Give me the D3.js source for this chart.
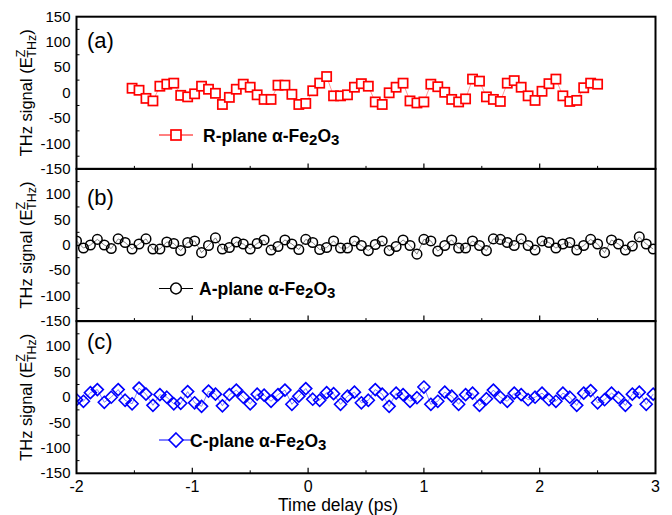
<!DOCTYPE html>
<html>
<head>
<meta charset="utf-8">
<script src="https://cdn.jsdelivr.net/npm/d3@7/dist/d3.min.js"></script>
<style>
  body { margin: 0; background: #fff; }
  svg { font-family: "Liberation Sans", Arial, sans-serif; }
</style>
</head>
<body>
<div id="chart"></div>
<script>
// time delay (ps) and THz signal
const delayA = [
  -1.52,-1.46,-1.40,-1.34,-1.28,-1.22,-1.16,-1.10,-1.04,-0.98,
  -0.92,-0.86,-0.80,-0.74,-0.68,-0.62,-0.56,-0.50,-0.44,-0.38,
  -0.32,-0.26,-0.20,-0.14,-0.08,-0.02,0.04,0.10,0.16,0.22,
  0.28,0.34,0.40,0.46,0.52,0.58,0.64,0.70,0.76,0.82,
  0.88,0.94,1.00,1.06,1.12,1.18,1.24,1.30,1.36,1.42,
  1.48,1.54,1.60,1.66,1.72,1.78,1.84,1.90,1.96,2.02,
  2.08,2.14,2.20,2.26,2.32,2.38,2.44,2.50
];
const sigA = [
  9, 5, -11, -16, 13, 17, 19, -5, -8, -2,
  13, 7, -1, -23, -9, 7, 17, 11, -4, -13,
  -13, 15, 15, -3, -23, -21, 4, 19, 32, -6,
  -6, -4, 11, 18, 13, -18, -23, 0, 11, 19,
  -16, -20, -18, 17, 12, 1, -13, -18, -12, 27,
  23, -8, -13, -17, 19, 24, 11, -6, -15, 3,
  18, 27, -6, -17, -15, 10, 19, 17
];
const delayBC = [
  -2.00,-1.94,-1.88,-1.82,-1.76,-1.70,-1.64,-1.58,-1.52,-1.46,
  -1.40,-1.34,-1.28,-1.22,-1.16,-1.10,-1.04,-0.98,-0.92,-0.86,
  -0.80,-0.74,-0.68,-0.62,-0.56,-0.50,-0.44,-0.38,-0.32,-0.26,
  -0.20,-0.14,-0.08,-0.02,0.04,0.10,0.16,0.22,0.28,0.34,
  0.40,0.46,0.52,0.58,0.64,0.70,0.76,0.82,0.88,0.94,
  1.00,1.06,1.12,1.18,1.24,1.30,1.36,1.42,1.48,1.54,
  1.60,1.66,1.72,1.78,1.84,1.90,1.96,2.02,2.08,2.14,
  2.20,2.26,2.32,2.38,2.44,2.50,2.56,2.62,2.68,2.74,
  2.80,2.86,2.92,2.98
];
const sigB = [
  8, -6, 0, 11, 0, -7, 12, 5, -8, 2,
  12, -8, -8, 6, 3, -11, 5, 8, -15, -1,
  14, -8, -5, 6, 2, -8, 3, 10, -10, -3,
  10, 2, -9, 11, 5, -9, -5, 8, -6, -6,
  8, -1, -11, 1, 8, -11, -3, 10, -1, -18,
  11, 8, -12, -1, 10, -6, -6, 8, -1, -11,
  12, 11, 5, -1, 12, -1, -10, 8, 5, -6,
  2, 5, -10, -1, 11, 2, -15, 10, 2, -10,
  -2, 16, 2, -8
];
const sigC = [
  -5, -8, 9, 15, -10, 0, 15, -6, -13, 18,
  6, -16, 5, 0, -13, -12, 11, -11, -18, 12,
  6, -17, 5, 14, 0, -13, 6, 4, -8, 5,
  14, -14, 2, 17, -4, -6, 9, 7, -14, 2,
  10, -11, -6, 15, 6, -18, 8, 5, -8, -1,
  20, -14, -8, 10, 2, -14, 5, 8, -16, -3,
  14, 0, -8, 8, 5, -5, 0, 8, -5, -8,
  8, 0, -16, 8, 13, -11, -5, 8, -1, -16,
  6, 10, -14, 6
];
const xTicks = [-2, -1, 0, 1, 2, 3];
const xMinor = [-1.5, -0.5, 0.5, 1.5, 2.5];
const yTicksTop = [150, 100, 50, 0, -50, -100, -150];
const yTicksRest = [100, 50, 0, -50, -100, -150];
const yMinor = [125, 75, 25, -25, -75, -125];

const W = 672, H = 515;
const left = 76.5, right = 655.5;
const panelH = 152.2;

const panels = [
  { id: 'a', top: 16.7, tag: '(a)', tagY: 48, t: delayA, v: sigA, yTicks: yTicksTop,
    color: '#ff0000', lineColor: '#ff8080', fill: '#fff', marker: 'square',
    name: 'R', legY: 135, textX: 203 },
  { id: 'b', top: 168.9, tag: '(b)', tagY: 205, t: delayBC, v: sigB, yTicks: yTicksRest,
    color: '#000000', lineColor: '#666', fill: 'none', marker: 'circle',
    name: 'A', legY: 288.5, textX: 199 },
  { id: 'c', top: 321.1, tag: '(c)', tagY: 349, t: delayBC, v: sigC, yTicks: yTicksRest,
    color: '#0000ff', lineColor: '#6060ff', fill: 'none', marker: 'diamond',
    name: 'C', legY: 440, textX: 190 }
];

const svg = d3.select('#chart').append('svg')
  .attr('width', W).attr('height', H);

const x = d3.scaleLinear().domain([-2, 3]).range([left, right]);

function drawMarker(sel, kind, s, color, fill) {
  if (kind === 'square') {
    sel.append('rect')
      .attr('x', -s).attr('y', -s).attr('width', 2 * s).attr('height', 2 * s)
      .attr('fill', fill).attr('stroke', color).attr('stroke-width', 1.7);
  } else if (kind === 'circle') {
    sel.append('circle').attr('r', s)
      .attr('fill', fill).attr('stroke', color).attr('stroke-width', 1.5);
  } else {
    sel.append('path')
      .attr('d', `M0,${-s}L${s},0L0,${s}L${-s},0Z`)
      .attr('fill', fill).attr('stroke', color).attr('stroke-width', 1.6);
  }
}

const markerSize = { square: 4.6, circle: 4.8, diamond: 6 };
const legendSize = { square: 5, circle: 5.4, diamond: 7 };

panels.forEach(p => {
  const bottom = p.top + panelH;
  const y = d3.scaleLinear().domain([-150, 150]).range([bottom, p.top]);
  const g = svg.append('g');

  g.append('clipPath').attr('id', 'clip-' + p.id)
    .append('rect').attr('x', left).attr('y', p.top)
    .attr('width', right - left).attr('height', panelH);

  const pts = p.t.map((t, i) => [t, p.v[i]]);
  const plot = g.append('g').attr('clip-path', `url(#clip-${p.id})`);

  plot.append('path')
    .datum(pts)
    .attr('fill', 'none')
    .attr('stroke', p.lineColor)
    .attr('stroke-width', 0.8)
    .attr('d', d3.line().x(d => x(d[0])).y(d => y(d[1])));

  plot.selectAll('g.pt').data(pts).join('g')
    .attr('class', 'pt')
    .attr('transform', d => `translate(${x(d[0])},${y(d[1])})`)
    .each(function () { drawMarker(d3.select(this), p.marker, markerSize[p.marker], p.color, p.fill); });

  // minor ticks on the left axis, pointing inward
  g.selectAll('line.ym').data(yMinor).join('line')
    .attr('x1', left).attr('x2', left + 3)
    .attr('y1', d => y(d)).attr('y2', d => y(d))
    .attr('stroke', '#000').attr('stroke-width', 1);

  // ticks on the bottom border, pointing inward
  g.selectAll('line.xM').data(xTicks.slice(1, -1)).join('line')
    .attr('x1', d => x(d)).attr('x2', d => x(d))
    .attr('y1', bottom).attr('y2', bottom - 5.5)
    .attr('stroke', '#000').attr('stroke-width', 1.2);
  g.selectAll('line.xm').data(xMinor).join('line')
    .attr('x1', d => x(d)).attr('x2', d => x(d))
    .attr('y1', bottom).attr('y2', bottom - 3)
    .attr('stroke', '#000').attr('stroke-width', 1);

  g.append('rect')
    .attr('x', left).attr('y', p.top)
    .attr('width', right - left).attr('height', panelH)
    .attr('fill', 'none').attr('stroke', '#000').attr('stroke-width', 2);

  g.selectAll('text.yl').data(p.yTicks).join('text')
    .attr('x', left - 6).attr('y', d => y(d) + 5)
    .attr('text-anchor', 'end')
    .attr('font-size', 15)
    .text(d => String(d));

  g.append('text')
    .attr('x', 87).attr('y', p.tagY)
    .attr('font-size', 22)
    .text(p.tag);

  // y title
  const yt = g.append('text')
    .attr('transform', `translate(32,${(p.top + bottom) / 2}) rotate(-90)`)
    .attr('text-anchor', 'middle')
    .attr('font-size', 16.5);
  yt.append('tspan').text('THz signal (E');
  yt.append('tspan').attr('font-size', 12.5).attr('dy', -7).text('Z');
  yt.append('tspan').attr('font-size', 12.5).attr('dx', -8).attr('dy', 11).text('THz');
  yt.append('tspan').attr('dy', -4).text(')');

  // legend
  const lg = g.append('g');
  lg.append('line')
    .attr('x1', 159).attr('x2', 193).attr('y1', p.legY).attr('y2', p.legY)
    .attr('stroke', p.color).attr('stroke-width', 1);
  drawMarker(lg.append('g').attr('transform', `translate(176,${p.legY})`),
    p.marker, legendSize[p.marker], p.color, '#fff');
  const lt = lg.append('text')
    .attr('x', p.textX).attr('y', p.legY + 6.5)
    .attr('font-size', 17.5).attr('font-weight', 'bold');
  lt.append('tspan').text(p.name + '-plane \u03b1-Fe');
  lt.append('tspan').attr('font-size', 15).attr('dy', 3).text('2');
  lt.append('tspan').attr('dy', -3).text('O');
  lt.append('tspan').attr('font-size', 15).attr('dy', 3).text('3');

  if (p.id === 'c') {
    g.selectAll('text.xl').data(xTicks).join('text')
      .attr('x', d => x(d)).attr('y', bottom + 18.5)
      .attr('text-anchor', 'middle')
      .attr('font-size', 16)
      .text(d => String(d));
    g.append('text')
      .attr('x', 338).attr('y', bottom + 37.5)
      .attr('text-anchor', 'middle')
      .attr('font-size', 17.5)
      .text('Time delay (ps)');
  }
});
</script>
</body>
</html>
